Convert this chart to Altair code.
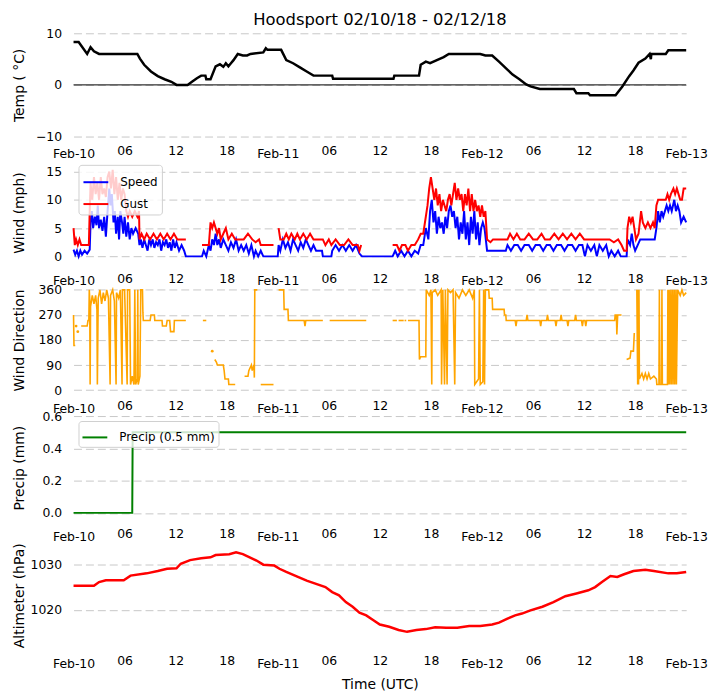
import altair as alt
import pandas as pd

TITLE = "Hoodsport 02/10/18 - 02/12/18"
TICK_HOURS = [0, 6, 12, 18, 24, 30, 36, 42, 48, 54, 60, 66, 72]
TICK_LABELS = ["Feb-10", "06", "12", "18", "Feb-11", "06", "12", "18",
               "Feb-12", "06", "12", "18", "Feb-13"]

# (hour since Feb-10 00 UTC, value); None = missing
TEMP = [(0, 8.3), (0.6, 8.3), (1.6, 6.0), (2.0, 7.3), (2.4, 6.5), (3.0, 6.0), (7.5, 6.0),
        (7.8, 5.1), (8.3, 3.9), (9.1, 2.6), (9.9, 1.7), (10.7, 1.1), (11.5, 0.6), (12.1, 0.0),
        (13.4, 0.0), (14.0, 0.7), (14.5, 1.3), (15.0, 1.8), (15.5, 1.8), (15.6, 1.1), (16.1, 1.1),
        (16.7, 3.6), (17.2, 4.0), (17.6, 3.5), (17.9, 4.2), (18.2, 3.6), (18.5, 4.2), (18.8, 4.8),
        (19.3, 6.0), (19.9, 5.7), (20.4, 5.7), (20.8, 6.0), (22.3, 6.3), (22.6, 7.1), (22.8, 6.8),
        (24.4, 6.8), (25.0, 4.8), (25.8, 4.2), (26.6, 3.4), (27.4, 2.6), (28.2, 1.8), (30.4, 1.8),
        (30.5, 1.2), (37.6, 1.2), (37.7, 1.8), (40.6, 1.8), (40.8, 3.9), (41.4, 4.5), (41.9, 4.2),
        (42.7, 4.8), (43.5, 5.4), (44.1, 6.0), (47.8, 6.0), (48.4, 5.7), (49.2, 5.7), (50.0, 4.5),
        (50.8, 3.25), (51.6, 2.0), (52.4, 1.1), (53.2, 0.1), (53.7, -0.3), (54.8, -0.8),
        (58.8, -0.8), (59.1, -1.6), (60.5, -1.6), (60.7, -2.0), (63.7, -2.0), (64.5, -0.3),
        (65.3, 1.7), (65.8, 2.8), (66.4, 4.3), (67.2, 5.1), (67.7, 6.0), (67.85, 5.0), (67.9, 6.0),
        (69.6, 6.0), (69.9, 6.7), (72.0, 6.7)]

SPEED = [(0.0, 1.2), (0.2, 0.3), (0.4, 1.0), (0.6, 0), (0.8, 1), (1.0, 0.3), (1.3, 1), (1.6, 0.5),
         (1.9, 1.2), (2.0, 6), (2.15, 8), (2.3, 5), (2.5, 7), (2.7, 5.5), (2.85, 9), (3.0, 5),
         (3.2, 6.5), (3.4, 4.5), (3.6, 7), (3.8, 3.5), (4.0, 8), (4.2, 12), (4.35, 9), (4.5, 11),
         (4.7, 6), (4.85, 8), (5.0, 4), (5.2, 7), (5.35, 3), (5.5, 8), (5.7, 6), (5.85, 4), (6.0, 7),
         (6.2, 3.5), (6.4, 6), (6.6, 3), (6.8, 5), (7.0, 4), (7.3, 5), (7.6, 4), (7.75, 2), (7.9, 3),
         (8.1, 1.5), (8.3, 3), (8.5, 2), (8.7, 1), (8.9, 3), (9.1, 2), (9.3, 3), (9.5, 1.5),
         (9.7, 2.5), (9.9, 2), (10.1, 3), (10.3, 1), (10.5, 2.5), (10.7, 2), (10.9, 3), (11.1, 1.5),
         (11.3, 2.5), (11.5, 1), (11.7, 3), (11.9, 1.5), (12.1, 2.5), (12.4, 1), (12.7, 2), (13.0, 1),
         (13.2, 0), (15.1, 0), (15.3, 1), (15.6, 0), (15.9, 2), (16.1, 1), (16.3, 3), (16.5, 2),
         (16.7, 4), (16.9, 2), (17.1, 3), (17.3, 1.5), (17.6, 3), (17.9, 2), (18.2, 1), (18.5, 2.5),
         (18.8, 1.5), (19.1, 3), (19.4, 1), (19.7, 2), (20.0, 1), (20.3, 2), (20.6, 0.5), (20.9, 2),
         (21.2, 0), (21.4, 1), (21.7, 0), (22.0, 1), (22.3, 0), (24.0, 0), (24.1, 2), (24.3, 1),
         (24.6, 3), (24.9, 1.5), (25.2, 2.5), (25.5, 1), (25.8, 3), (26.1, 2), (26.4, 1), (26.7, 2.5),
         (27.0, 1.5), (27.3, 3), (27.6, 2), (27.9, 1), (28.2, 2), (28.5, 1), (29.2, 1), (29.3, 0),
         (30.3, 0), (30.4, 1), (30.8, 2), (31.2, 1), (31.6, 2), (32.0, 1), (32.4, 2), (32.8, 1),
         (33.2, 2), (33.6, 0.5), (33.9, 0), (37.5, 0), (37.8, 1), (38.1, 0), (38.5, 1), (38.9, 0),
         (39.3, 1), (39.7, 0), (40.1, 1), (40.5, 0.5), (40.8, 2), (41.1, 2), (41.4, 5), (41.7, 3),
         (41.9, 8), (42.1, 10), (42.3, 6), (42.5, 8), (42.7, 4), (42.9, 7), (43.1, 5), (43.3, 6),
         (43.5, 4), (43.7, 7), (43.9, 5), (44.1, 8), (44.3, 9), (44.5, 7), (44.7, 8), (44.9, 5),
         (45.1, 7), (45.3, 3), (45.5, 6), (45.7, 4), (45.9, 8), (46.1, 3), (46.3, 6), (46.5, 2),
         (46.7, 7), (46.9, 4), (47.1, 8), (47.3, 3), (47.5, 6), (47.7, 2), (47.9, 5), (48.1, 6),
         (48.3, 5), (48.6, 1), (50.8, 1), (51.0, 2), (51.4, 1), (51.8, 2), (52.2, 2), (52.6, 1),
         (53.0, 2), (53.5, 2), (53.9, 1), (54.3, 2), (54.8, 2), (55.2, 1), (55.6, 2), (56.0, 2),
         (56.4, 1), (56.8, 2), (57.3, 2), (57.7, 1), (58.1, 2), (58.6, 2), (59.0, 1), (59.4, 2),
         (59.8, 2), (60.1, 0), (60.4, 2), (60.8, 1), (61.2, 2), (61.5, 0), (61.8, 2), (62.2, 1),
         (62.6, 2), (62.9, 0), (63.2, 1), (63.6, 0), (64.0, 1), (64.3, 0), (65.0, 0), (65.1, 3),
         (65.4, 2), (65.6, 4), (65.8, 2), (66.0, 1), (66.3, 2), (66.6, 3), (68.3, 3), (68.5, 5),
         (68.7, 8), (68.9, 6), (69.1, 8), (69.3, 7), (69.5, 8), (69.7, 9), (69.9, 8), (70.1, 9),
         (70.3, 8), (70.6, 10), (70.8, 8), (71.0, 9), (71.2, 8), (71.4, 6), (71.7, 7), (72.0, 6)]

GUST = [(0.0, 5), (0.15, 2), (0.3, 3), (0.5, 2), (0.7, 3), (0.9, 2), (1.8, 2), (1.9, 8), (2.0, 13),
        (2.2, 10), (2.4, 14), (2.6, 11), (2.8, 13), (3.0, 10), (3.2, 14), (3.4, 11), (3.6, 12),
        (3.8, 10.5), (4.0, 14), (4.2, 15), (4.4, 12), (4.6, 15.3), (4.8, 11), (5.0, 14), (5.2, 10),
        (5.4, 13), (5.6, 10), (5.8, 12), (6.0, 11), (6.2, 8), (6.4, 7), (6.6, 8), (6.9, 7),
        (7.2, 8), (7.5, 7), (7.7, 8), (7.75, 3), (8.0, 4), (8.3, 3), (8.6, 4), (9.0, 3), (9.4, 4),
        (9.8, 3), (10.2, 4), (10.6, 3), (11.0, 4), (11.4, 3), (11.8, 4), (12.2, 3), (13.2, 3),
        (13.3, None), (15.1, 2), (15.9, 2), (16.1, 6), (16.3, 5), (16.5, 6), (16.7, 5), (16.9, 4),
        (17.1, 5), (17.3, 3), (17.6, 4), (17.9, 5), (18.2, 3), (18.6, 4), (19.0, 3), (20.0, 3),
        (20.5, 4), (21.0, 3), (21.4, 2.5), (21.8, 3), (22.0, 2), (23.5, 2), (23.6, None),
        (24.1, 5), (24.3, 3), (24.7, 3), (25.0, 4), (25.3, 3), (25.6, 4), (26.0, 3), (26.3, 4),
        (26.6, 3), (27.0, 4), (27.4, 3), (27.8, 4), (28.2, 3), (29.3, 3), (29.6, 2), (30.0, 3),
        (30.3, 2), (30.8, 3), (31.3, 2), (31.8, 2), (32.3, 3), (32.8, 2), (33.4, 2), (33.6, 1),
        (33.8, 2), (34.0, None), (37.5, 2), (38.0, 2), (38.3, 1), (38.6, 2), (39.0, 2), (39.3, 1),
        (39.7, 2), (40.1, 2), (40.5, 3), (40.8, 4), (41.1, 4), (41.4, 7), (41.6, 9), (41.8, 12),
        (42.0, 14), (42.2, 12), (42.4, 10), (42.6, 12), (42.8, 9), (43.0, 11), (43.2, 8),
        (43.4, 10), (43.6, 9), (43.8, 8), (44.0, 10), (44.2, 11), (44.4, 9), (44.6, 11),
        (44.8, 13), (45.0, 10), (45.2, 12), (45.4, 10), (45.6, 11), (45.8, 8), (46.0, 11),
        (46.2, 9), (46.4, 12), (46.6, 8), (46.8, 11), (47.0, 8), (47.2, 10), (47.4, 8), (47.6, 9),
        (47.8, 7), (48.0, 9), (48.2, 7), (48.4, 8), (48.6, 3), (49.0, 2.5), (49.3, 3), (51.0, 3),
        (51.3, 4), (51.7, 3), (52.1, 4), (52.5, 3), (53.0, 3), (53.5, 4), (54.0, 3), (54.5, 3),
        (55.0, 4), (55.4, 3), (56.0, 3), (56.5, 4), (57.0, 3), (57.5, 4), (58.0, 3), (58.5, 4),
        (59.0, 3), (59.5, 4), (60.0, 3), (63.0, 3), (63.5, 2.5), (64.0, 3), (64.4, 2), (64.7, 1),
        (65.0, 1), (65.1, 5), (65.3, 7), (65.5, 6), (65.7, 7), (65.9, 5), (66.1, 3), (66.4, 4),
        (66.7, 8), (66.9, 6), (67.2, 5), (67.5, 6), (67.8, 5), (68.1, 6), (68.3, 5), (68.5, 9),
        (68.7, 10), (69.6, 10), (69.8, 11), (70.0, 10), (70.2, 11), (70.5, 12), (70.7, 11),
        (70.9, 12), (71.1, 11), (71.3, 10), (71.5, 10), (71.7, 12), (72.0, 12)]

DIRECTION = [(0.0, 270), (0.05, 160), (0.2, 160), (0.25, None), (0.9, 230), (1.6, 230), (1.7, 250),
             (1.8, 250), (1.85, 360), (1.9, 330), (1.95, 20), (2.0, 300), (2.2, 340), (2.4, 310),
             (2.6, 340), (2.75, 290), (2.8, 20), (2.9, 330), (3.1, 360), (3.3, 310), (3.5, 350),
             (3.7, 320), (3.9, 360), (4.1, 330), (4.3, 20), (4.35, 340), (4.6, 360), (4.8, 320),
             (5.0, 20), (5.05, 350), (5.3, 330), (5.5, 360), (5.7, 20), (5.75, 360), (6.0, 360),
             (6.3, 20), (6.35, 360), (6.6, 360), (6.7, 20), (6.9, 50), (7.1, 20), (7.2, 360),
             (7.3, 20), (7.5, 40), (7.55, 360), (7.6, 20), (7.8, 50), (7.9, 360), (8.1, 360),
             (8.15, 280), (8.2, 250), (9.0, 250), (9.1, 270), (9.5, 270), (9.55, 250), (10.4, 250),
             (10.45, 230), (10.9, 230), (11.0, 250), (11.3, 250), (11.4, 210), (11.8, 210),
             (11.85, 250), (13.2, 250), (13.3, None), (15.2, 250), (15.6, 250), (15.7, None),
             (16.6, 110), (16.8, 100), (16.9, 90), (17.6, 90), (17.7, 70), (17.8, 40), (18.2, 40),
             (18.25, 20), (19.0, 20), (19.1, None), (20.1, 50), (20.5, 50), (20.6, 70), (20.9, 90),
             (21.0, 70), (21.2, 90), (21.25, 45), (21.3, 360), (21.6, 360), (21.7, None),
             (22.0, 20), (23.5, 20), (23.6, None), (24.1, 360), (24.7, 360), (24.75, 290),
             (25.2, 290), (25.25, 250), (27.1, 250), (27.2, 230), (27.3, 250), (29.3, 250),
             (29.4, None), (30.1, 250), (34.4, 250), (34.5, None), (37.5, 250), (38.0, 250),
             (38.1, None), (38.2, 250), (38.8, 250), (38.85, None), (38.9, 250), (39.1, 250),
             (39.2, None), (39.3, 250), (40.6, 250), (40.65, 110), (40.8, 120), (41.4, 120),
             (41.45, 360), (41.8, 340), (42.0, 360), (42.1, 20), (42.15, 350), (42.5, 360),
             (42.8, 340), (43.2, 360), (43.25, 20), (43.4, 360), (43.6, 20), (43.7, 360),
             (43.9, 20), (44.0, 360), (44.3, 350), (44.6, 360), (44.8, 20), (44.9, 350),
             (45.3, 330), (45.7, 360), (46.1, 340), (46.5, 360), (46.9, 330), (47.1, 360),
             (47.15, 20), (47.6, 40), (47.7, 360), (47.8, 20), (48.1, 30), (48.2, 360), (48.3, 20),
             (48.4, 360), (48.8, 360), (48.85, 330), (49.2, 330), (49.25, 290), (50.6, 290),
             (50.65, 270), (50.8, 270), (50.85, 250), (51.9, 250), (52.0, 230), (52.1, 250),
             (53.2, 250), (53.3, 270), (53.4, 250), (54.8, 250), (54.9, 230), (55.0, 250),
             (55.6, 250), (55.7, 270), (55.8, 250), (56.6, 250), (56.7, 230), (56.8, 250),
             (57.2, 250), (57.3, 270), (57.4, 250), (58.0, 250), (58.1, 230), (58.2, 250),
             (58.9, 250), (59.0, 270), (59.1, 250), (59.7, 250), (59.8, 230), (59.9, 250),
             (60.1, 250), (60.2, 230), (60.3, 250), (63.6, 250), (63.65, 270), (63.8, 270),
             (63.85, 200), (63.95, 270), (64.4, 270), (64.5, None), (65.0, 110), (65.4, 115),
             (65.5, 140), (65.8, 140), (65.9, 205), (66.0, None), (66.2, 360), (66.3, 20),
             (66.35, 360), (66.4, 20), (66.45, 360), (66.5, 40), (66.8, 60), (67.0, 40), (67.2, 60),
             (67.4, 40), (67.6, 60), (67.8, 40), (68.2, 50), (68.5, 40), (68.55, 20), (68.8, 20),
             (68.85, 360), (68.9, 20), (69.1, 20), (69.15, 360), (69.2, 20), (69.8, 20),
             (69.85, 360), (69.9, 20), (70.0, 360), (70.05, 20), (70.2, 360), (70.25, 20),
             (70.4, 360), (70.45, 20), (70.6, 360), (70.65, 20), (70.8, 360), (70.85, 20),
             (71.0, 360), (71.3, 340), (71.5, 360), (71.7, 340), (72.0, 350)]
DIRECTION_DOTS = [(0.3, 230), (0.5, 210), (16.3, 140)]

PRECIP = [(0, 0.0), (6.9, 0.0), (6.95, 0.5), (72, 0.5)]

ALTIMETER = [(0, 1025.3), (2.4, 1025.3), (3.0, 1026.1), (3.8, 1026.5), (5.9, 1026.5),
             (6.7, 1027.5), (8.6, 1028.0), (9.9, 1028.5), (11.0, 1029.0), (12.1, 1029.1),
             (12.6, 1030.1), (13.7, 1030.9), (15.0, 1031.3), (16.1, 1031.5), (16.7, 1032.0),
             (18.3, 1032.2), (19.1, 1032.6), (19.9, 1032.2), (20.7, 1031.5), (21.5, 1030.8),
             (22.3, 1029.9), (23.6, 1029.7), (24.2, 1029.0), (25.0, 1028.3), (26.3, 1027.3),
             (27.4, 1026.4), (28.5, 1025.7), (29.6, 1025.0), (30.4, 1023.9), (31.2, 1023.2),
             (32.0, 1021.7), (32.8, 1020.7), (33.6, 1019.4), (34.4, 1018.8), (35.2, 1017.8),
             (36.0, 1016.8), (37.1, 1016.3), (38.2, 1015.6), (39.2, 1015.2), (40.3, 1015.6),
             (41.4, 1015.8), (42.5, 1016.2), (43.8, 1016.1), (45.1, 1016.1), (46.5, 1016.5),
             (47.8, 1016.5), (49.2, 1016.8), (50.0, 1017.2), (51.0, 1018.1), (51.9, 1018.8),
             (52.7, 1019.2), (53.7, 1019.9), (55.1, 1020.7), (56.4, 1021.7), (57.8, 1023.0),
             (59.1, 1023.6), (60.5, 1024.3), (61.3, 1025.0), (62.1, 1026.1), (63.1, 1027.4),
             (63.9, 1027.2), (64.7, 1027.8), (65.8, 1028.5), (67.2, 1028.8), (68.2, 1028.5),
             (69.9, 1028.0), (70.9, 1028.0), (72.0, 1028.3)]


def frame(pairs, name):
    df = pd.DataFrame(pairs, columns=["h", "v"])
    df["v"] = pd.to_numeric(df["v"])
    df["seg"] = df["v"].isna().cumsum()
    df["series"] = name
    return df.dropna()


LABEL_EXPR = "[" + ",".join("'%s'" % s for s in TICK_LABELS) + "][round(datum.value/6)]"
W = 617
H = 104
TITLE_X = -54


def x_enc(title=None):
    return alt.X("h:Q", scale=alt.Scale(domain=[0, 72], nice=False, zero=False),
                 axis=alt.Axis(values=TICK_HOURS, labelExpr=LABEL_EXPR, title=title,
                               grid=False, domain=False, ticks=False, tickSize=0,
                               labelPadding={"condition": {"test": "datum.value % 24 === 0", "value": 11},
                                             "value": 8},
                               labelFlush=False, labelOverlap=False, titlePadding=7))


def y_enc(title, domain, values, fmt=None):
    ax = dict(values=values, title=title, titleX=TITLE_X, titleBaseline="middle",
              grid=True, domain=False, ticks=False, tickSize=0, labelPadding=12,
              format=fmt if fmt else "d")
    return alt.Y("v:Q", scale=alt.Scale(domain=domain, nice=False, zero=False),
                 axis=alt.Axis(**ax))


legend_style = dict(title=None, orient="none", legendX=5, legendY=4, fillColor="rgba(255,255,255,0.8)",
                    strokeColor="#d0d0d0", cornerRadius=3, padding=4, symbolType="stroke",
                    symbolStrokeWidth=2, symbolSize=625, labelFontSize=12, labelOffset=11,
                    rowPadding=2, zindex=1)

# Panel 1: temperature
temp_df = frame(TEMP, "Temp")
zero = alt.Chart(pd.DataFrame({"v": [0]})).mark_rule(color="black", strokeWidth=1).encode(y="v:Q")
p1 = alt.layer(
    alt.Chart(temp_df).mark_line(color="black", strokeWidth=2.5).encode(
        x=x_enc(), y=y_enc("Temp ( °C)", [-10.01, 10.01], [-10, 0, 10])),
    zero,
).properties(width=W, height=H,
             title=alt.TitleParams(TITLE, fontSize=16.5, fontWeight="normal", offset=-1,
                                   frame="group", anchor="middle", color="black"))

# Panel 2: wind
wind_color = alt.Color("series:N", scale=alt.Scale(domain=["Speed", "Gust"], range=["blue", "red"]),
                       legend=alt.Legend(**legend_style))
speed_df = frame(SPEED, "Speed")
gust_df = frame(GUST, "Gust")
p2 = alt.layer(
    alt.Chart(speed_df).mark_line(strokeWidth=2).encode(
        x=x_enc(), y=y_enc("Wind (mph)", [-1.37, 16.88], [0, 5, 10, 15]),
        color=wind_color, detail="seg:N"),
    alt.Chart(gust_df).mark_line(strokeWidth=2).encode(
        x=x_enc(), y=y_enc("Wind (mph)", [-1.37, 16.88], [0, 5, 10, 15]),
        color=wind_color, detail="seg:N"),
).properties(width=W, height=H)

# Panel 3: direction
dir_df = frame(DIRECTION, "Direction")
dots_df = frame(DIRECTION_DOTS, "Direction")
p3 = alt.layer(
    alt.Chart(dir_df).mark_line(color="orange", strokeWidth=1.6).encode(
        x=x_enc(), y=y_enc("Wind Direction", [-5.7, 365], [0, 90, 180, 270, 360]), detail="seg:N"),
    alt.Chart(dots_df).mark_circle(color="orange", size=8, opacity=1).encode(
        x=x_enc(), y=y_enc("Wind Direction", [-5.7, 365], [0, 90, 180, 270, 360])),
).properties(width=W, height=H)

# Panel 4: precip
precip_df = frame(PRECIP, "Precip (0.5 mm)")
precip_legend = dict(legend_style, legendY=5, padding=3)
p4 = alt.Chart(precip_df).mark_line(strokeWidth=2).encode(
    x=x_enc(), y=y_enc("Precip (mm)", [-0.04, 0.601], [0, 0.2, 0.4, 0.6], ".1f"),
    color=alt.Color("series:N", scale=alt.Scale(domain=["Precip (0.5 mm)"], range=["green"]),
                    legend=alt.Legend(**precip_legend)),
).properties(width=W, height=H)

# Panel 5: altimeter
alt_df = frame(ALTIMETER, "Altimeter")
p5 = alt.Chart(alt_df).mark_line(color="red", strokeWidth=2.5).encode(
    x=x_enc("Time (UTC)"), y=y_enc("Altimeter (hPa)", [1011.9, 1034.5], [1020, 1030]),
).properties(width=W, height=H)

chart = alt.vconcat(p1, p2, p3, p4, p5, spacing=24.5, bounds="flush").resolve_scale(
    color="independent", y="independent"
).properties(padding={"left": 4, "top": 1, "right": 5, "bottom": 5}).configure(
    font="DejaVu Sans"
).configure_view(stroke=None).configure_axis(
    labelColor="black", titleColor="black", labelFontSize=12.5, titleFontSize=14,
    titleFontWeight="normal", gridColor="#c8c8c8", gridDash=[8, 4], gridWidth=1,
    labelFont="DejaVu Sans", titleFont="DejaVu Sans"
).configure_legend(labelFont="DejaVu Sans", labelColor="black")

chart.save("out.html", embed_options={"renderer": "svg", "actions": False})
